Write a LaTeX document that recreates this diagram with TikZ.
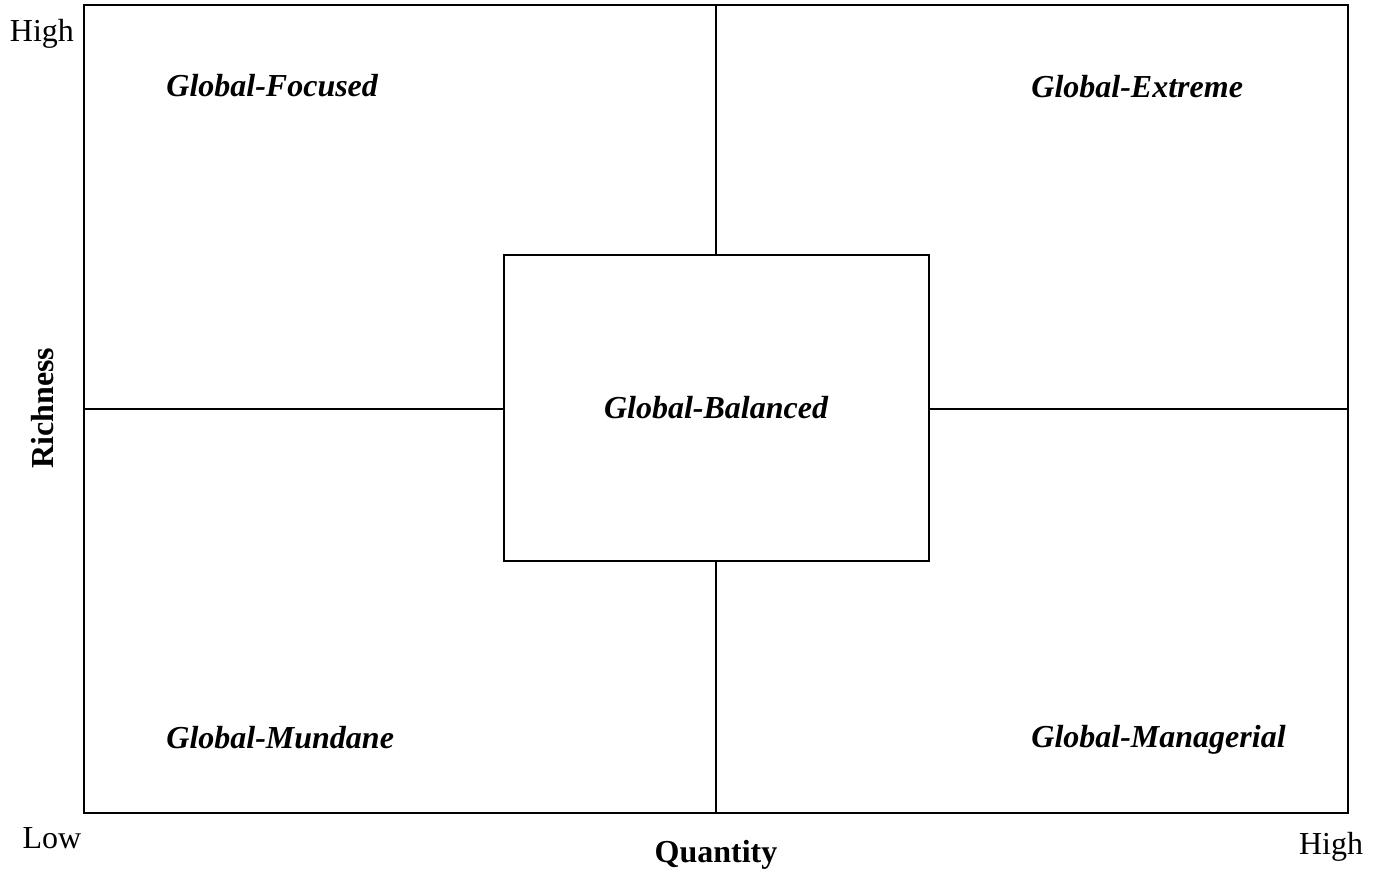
\documentclass[tikz,border=0pt]{standalone}
\usepackage{fontspec}
\setmainfont{Liberation Serif}
\begin{document}
\begin{tikzpicture}[x=0.5pt,y=-0.5pt,
  frame/.style={draw=black,line width=0.9pt,inner sep=0pt},
  qlabel/.style={font=\fontsize{16}{19}\selectfont\bfseries\itshape,inner sep=0pt,text depth=0pt},
  axlabel/.style={font=\fontsize{16}{19}\selectfont,inner sep=0pt,text depth=0pt},
  axtitle/.style={font=\fontsize{16}{19}\selectfont\bfseries,inner sep=0pt,text depth=0pt},
  divider/.style={line width=0.9pt}]
\useasboundingbox (0,0) rectangle (1374,876);
\node[frame,minimum width=632pt,minimum height=404pt] (outer) at (716,409) {};
\node[frame,minimum width=212.5pt,minimum height=153pt] (bal) at (716.5,408) {};
\draw[divider] (outer.north) -- (outer.north |- bal.north);
\draw[divider] (outer.south) -- (outer.south |- bal.south);
\draw[divider] (outer.west) -- (outer.west -| bal.west);
\draw[divider] (outer.east) -- (outer.east -| bal.east);
\node[qlabel] (bl) at (716,407) {Global-Balanced};
\node[qlabel,anchor=west] (fo) at (166,85) {Global-Focused};
\node[qlabel,anchor=west] (ex) at (1031,86) {Global-Extreme};
\node[qlabel,anchor=west] (mu) at (166,737) {Global-Mundane};
\node[qlabel,anchor=west] (ma) at (1031,736) {Global-Managerial};
\node[axlabel] (hy) at (42,30) {High};
\node[axlabel] (lo) at (52,838) {Low};
\node[axlabel] (hx) at (1331,843) {High};
\node[axtitle] (qt) at (716,851) {Quantity};
\node[axtitle,rotate=90] (rc) at (42,408) {Richness};
\end{tikzpicture}
\end{document}
